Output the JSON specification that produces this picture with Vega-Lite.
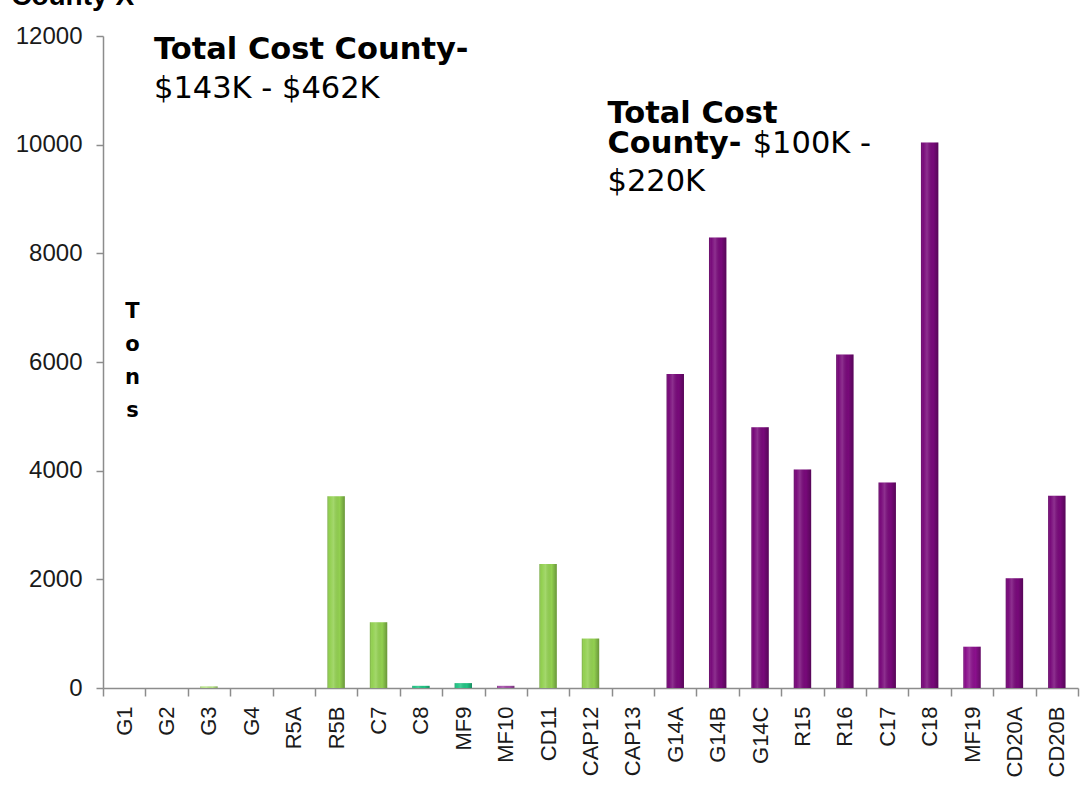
{
  "$schema": "https://vega.github.io/schema/vega-lite/v6.json",
  "width": 975,
  "height": 652,
  "autosize": {"type": "none"},
  "padding": {"left": 103, "top": 36, "right": 14, "bottom": 101},
  "background": "white",
  "config": {
    "view": {"stroke": null},
    "font": "Liberation Sans",
    "axis": {
      "labelFont": "Liberation Sans",
      "labelFontSize": 22,
      "labelColor": "#1a1a1a",
      "tickColor": "#8c8c8c",
      "tickWidth": 1.5,
      "domainColor": "#8c8c8c",
      "domainWidth": 1.5,
      "grid": false
    },
    "axisX": {
      "labelAngle": -90,
      "labelAlign": "right",
      "labelBaseline": "middle",
      "labelPadding": 10,
      "tickBand": "extent",
      "tickSize": 8
    },
    "axisY": {
      "labelFontSize": 24,
      "labelPadding": 14,
      "tickSize": 7,
      "tickCount": 6,
      "format": "d"
    }
  },
  "data": {
    "values": [
      {"site": "G1", "tons": 0, "grp": "green"},
      {"site": "G2", "tons": 0, "grp": "green"},
      {"site": "G3", "tons": 30, "grp": "lightgreen"},
      {"site": "G4", "tons": 0, "grp": "green"},
      {"site": "R5A", "tons": 0, "grp": "green"},
      {"site": "R5B", "tons": 3530, "grp": "green"},
      {"site": "C7", "tons": 1210, "grp": "green"},
      {"site": "C8", "tons": 40, "grp": "teal"},
      {"site": "MF9", "tons": 90, "grp": "teal"},
      {"site": "MF10", "tons": 40, "grp": "lightpurple"},
      {"site": "CD11", "tons": 2280, "grp": "green"},
      {"site": "CAP12", "tons": 910, "grp": "green"},
      {"site": "CAP13", "tons": 0, "grp": "green"},
      {"site": "G14A", "tons": 5780, "grp": "purple"},
      {"site": "G14B", "tons": 8290, "grp": "purple"},
      {"site": "G14C", "tons": 4800, "grp": "purple"},
      {"site": "R15", "tons": 4020, "grp": "purple"},
      {"site": "R16", "tons": 6140, "grp": "purple"},
      {"site": "C17", "tons": 3780, "grp": "purple"},
      {"site": "C18", "tons": 10040, "grp": "purple"},
      {"site": "MF19", "tons": 760, "grp": "brightpurple"},
      {"site": "CD20A", "tons": 2020, "grp": "purple"},
      {"site": "CD20B", "tons": 3540, "grp": "purple"}
    ]
  },
  "layer": [
    {
      "mark": {"type": "bar", "width": {"band": 0.41}},
      "encoding": {
        "x": {
          "field": "site",
          "type": "nominal",
          "sort": null,
          "scale": {"paddingInner": 0, "paddingOuter": 0},
          "axis": {"title": null}
        },
        "y": {
          "field": "tons",
          "type": "quantitative",
          "scale": {"domain": [0, 12000], "nice": false},
          "axis": {"title": null}
        },
        "color": {
          "field": "grp",
          "type": "nominal",
          "legend": null,
          "scale": {
            "domain": ["green", "lightgreen", "teal", "lightpurple", "purple", "brightpurple"],
            "range": ["#92d050", "#b5e283", "#22c485", "#a24ba6", "#78097a", "#8a108c"]
          }
        }
      }
    },
    {
      "mark": {
        "type": "bar",
        "width": {"band": 0.41},
        "fill": {
          "gradient": "linear",
          "x1": 0, "y1": 0, "x2": 1, "y2": 0,
          "stops": [
            {"offset": 0, "color": "rgba(0,0,0,0.22)"},
            {"offset": 0.12, "color": "rgba(255,255,255,0.0)"},
            {"offset": 0.35, "color": "rgba(255,255,255,0.16)"},
            {"offset": 0.7, "color": "rgba(0,0,0,0.0)"},
            {"offset": 1, "color": "rgba(0,0,0,0.28)"}
          ]
        }
      },
      "encoding": {
        "x": {"field": "site", "type": "nominal", "sort": null, "axis": {"title": null}},
        "y": {"field": "tons", "type": "quantitative", "axis": {"title": null}}
      }
    },
    {
      "data": {"values": [{}]},
      "mark": {"type": "text", "align": "left", "baseline": "alphabetic", "font": "Liberation Sans", "fontSize": 28, "fontWeight": "bold", "dx": -113, "dy": -31, "color": "#000000"},
      "encoding": {
        "x": {"datum": "G1", "type": "nominal", "axis": {"title": null}},
        "y": {"datum": 12000, "type": "quantitative", "axis": {"title": null}},
        "text": {"value": "County X"}
      }
    },
    {
      "data": {"values": [{}]},
      "mark": {"type": "text", "align": "left", "baseline": "alphabetic", "font": "DejaVu Sans", "fontSize": 30.5, "fontWeight": "bold", "dx": -12.6, "color": "#000000"},
      "encoding": {
        "x": {"datum": "G2", "type": "nominal", "axis": {"title": null}},
        "y": {"datum": 11573, "type": "quantitative", "axis": {"title": null}},
        "text": {"value": "Total Cost County-"}
      }
    },
    {
      "data": {"values": [{}]},
      "mark": {"type": "text", "align": "left", "baseline": "alphabetic", "font": "DejaVu Sans", "fontSize": 30.5, "fontWeight": "normal", "dx": -12.6, "color": "#000000"},
      "encoding": {
        "x": {"datum": "G2", "type": "nominal", "axis": {"title": null}},
        "y": {"datum": 10856, "type": "quantitative", "axis": {"title": null}},
        "text": {"value": "$143K - $462K"}
      }
    },
    {
      "data": {"values": [{}]},
      "mark": {"type": "text", "align": "left", "baseline": "alphabetic", "font": "DejaVu Sans", "fontSize": 30.5, "fontWeight": "bold", "dx": -25.4, "color": "#000000"},
      "encoding": {
        "x": {"datum": "CAP13", "type": "nominal", "axis": {"title": null}},
        "y": {"datum": 10401, "type": "quantitative", "axis": {"title": null}},
        "text": {"value": "Total Cost"}
      }
    },
    {
      "data": {"values": [{}]},
      "mark": {"type": "text", "align": "left", "baseline": "alphabetic", "font": "DejaVu Sans", "fontSize": 30.5, "fontWeight": "bold", "dx": -25.4, "color": "#000000"},
      "encoding": {
        "x": {"datum": "CAP13", "type": "nominal", "axis": {"title": null}},
        "y": {"datum": 9838, "type": "quantitative", "axis": {"title": null}},
        "text": {"value": "County-"}
      }
    },
    {
      "data": {"values": [{}]},
      "mark": {"type": "text", "align": "left", "baseline": "alphabetic", "font": "DejaVu Sans", "fontSize": 30.5, "fontWeight": "normal", "dx": 35, "color": "#000000"},
      "encoding": {
        "x": {"datum": "G14B", "type": "nominal", "axis": {"title": null}},
        "y": {"datum": 9838, "type": "quantitative", "axis": {"title": null}},
        "text": {"value": "$100K -"}
      }
    },
    {
      "data": {"values": [{}]},
      "mark": {"type": "text", "align": "left", "baseline": "alphabetic", "font": "DejaVu Sans", "fontSize": 30.5, "fontWeight": "normal", "dx": -25.4, "color": "#000000"},
      "encoding": {
        "x": {"datum": "CAP13", "type": "nominal", "axis": {"title": null}},
        "y": {"datum": 9145, "type": "quantitative", "axis": {"title": null}},
        "text": {"value": "$220K"}
      }
    },
    {
      "data": {"values": [{}]},
      "mark": {"type": "text", "align": "center", "baseline": "alphabetic", "font": "DejaVu Sans", "fontSize": 21, "fontWeight": "bold", "lineHeight": 33, "dx": 8.3, "color": "#000000"},
      "encoding": {
        "x": {"datum": "G1", "type": "nominal", "axis": {"title": null}},
        "y": {"datum": 6808, "type": "quantitative", "axis": {"title": null}},
        "text": {"value": ["T", "o", "n", "s"]}
      }
    }
  ]
}
